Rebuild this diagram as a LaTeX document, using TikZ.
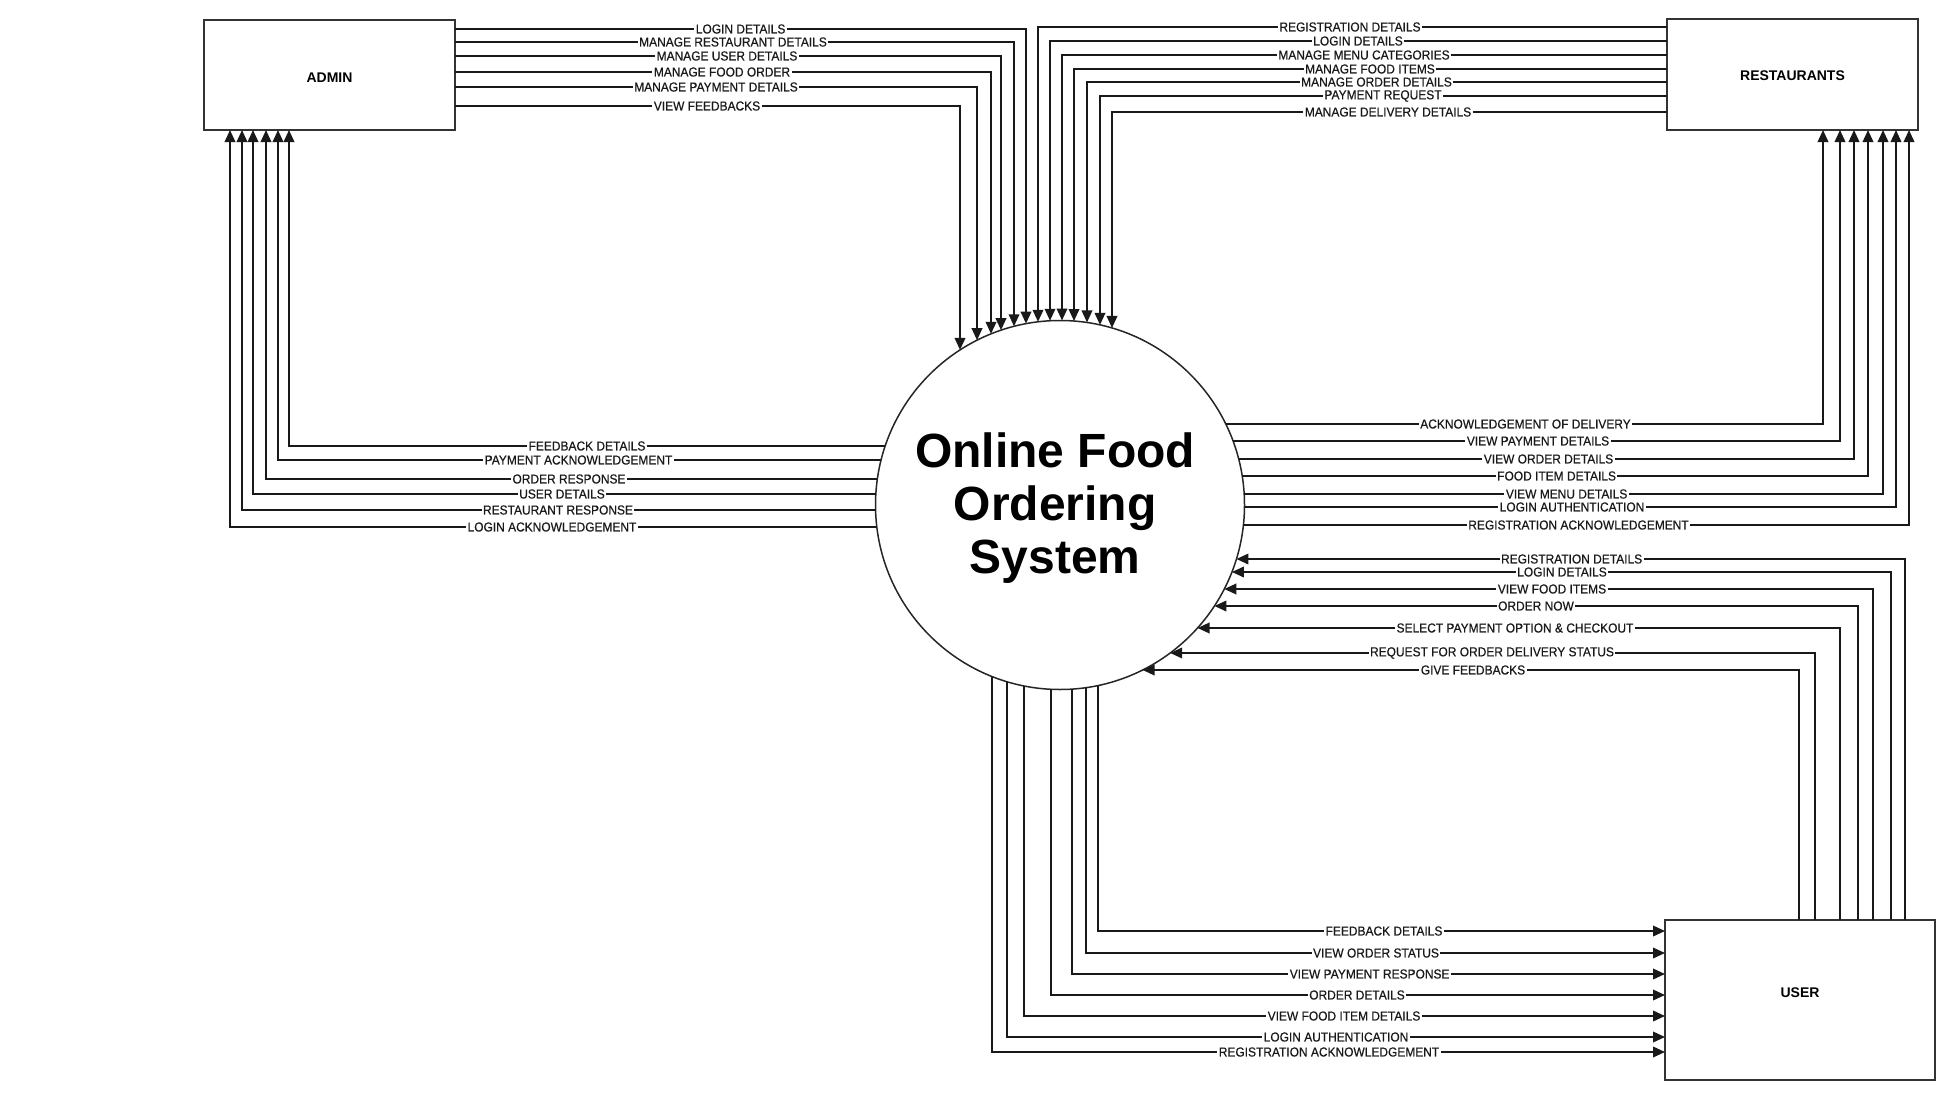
\documentclass[tikz,border=0pt]{standalone}
\usepackage{fontspec}
\setmainfont{Liberation Sans}
\newfontfamily\lblfont[FakeStretch=0.92,FakeBold=0.5]{Liberation Sans}
\usetikzlibrary{arrows.meta,calc}
\begin{document}
\begin{tikzpicture}[x=1pt,y=-1pt,
  ent/.style={draw=black!80, line width=1.5pt, fill=white, inner sep=0pt, outer sep=0pt},
  entname/.style={font=\bfseries\fontsize{14}{14}\selectfont, inner sep=0pt},
  flow/.style={draw=black!90, line width=2pt},
  arr/.style={-{Triangle[length=12pt,width=10.5pt]}},
  lbl/.style={fill=white, inner xsep=1.5pt, inner ysep=0.5pt, text=black!90,
    font=\lblfont\fontsize{13}{13}\selectfont}]
\useasboundingbox[fill=white] (0,0) rectangle (1955,1100);

% entities
\node[ent, minimum width=251pt, minimum height=110pt,
  label={[entname, yshift=-2.5pt]center:ADMIN}] (admin) at (329.5,75) {};
\node[ent, minimum width=251pt, minimum height=111pt,
  label={[entname, yshift=-1.5pt]center:RESTAURANTS}] (rest) at (1792.5,74.5) {};
\node[ent, minimum width=270pt, minimum height=160pt,
  label={[entname, yshift=7.5pt]center:USER}] (user) at (1800,1000) {};

% process
\node[circle, draw=black!85, line width=1.5pt, fill=white, minimum size=369pt, inner sep=0pt,
  outer sep=0pt] (sys) at (1060,505) {};
\node[align=center, font=\bfseries\fontsize{48}{53}\selectfont] (title) at ($(sys.center)+(-5,3)$)
  {Online Food\\Ordering\\System};

% admin -> system (top)
\foreach \y/\xv/\lx/\txt in {
  29/1026/740.6/LOGIN DETAILS,
  42/1014/733/MANAGE RESTAURANT DETAILS,
  56/1001/727/MANAGE USER DETAILS,
  72/991/722/MANAGE FOOD ORDER,
  87/977/716/MANAGE PAYMENT DETAILS,
  106/960/707/VIEW FEEDBACKS}{
  \pgfmathsetmacro\off{100*sqrt(1.845^2-((\xv-1060)/100)^2)}
  \draw[flow,arr] (admin.east |- 0,\y) -- (\xv,\y) -- ($(sys.center)+({\xv-1060},{-\off})$);
  \node[lbl] at (\lx,\y) {\txt};
}

% restaurants -> system (top)
\foreach \y/\xv/\lx/\txt in {
  27/1038/1350/REGISTRATION DETAILS,
  41/1050/1358/LOGIN DETAILS,
  55/1062/1364/MANAGE MENU CATEGORIES,
  69/1074/1370/MANAGE FOOD ITEMS,
  82/1087/1376.5/MANAGE ORDER DETAILS,
  96/1100/1383/PAYMENT REQUEST,
  112/1112/1388/MANAGE DELIVERY DETAILS}{
  \pgfmathsetmacro\off{100*sqrt(1.845^2-((\xv-1060)/100)^2)}
  \draw[flow,arr] (rest.west |- 0,\y) -- (\xv,\y) -- ($(sys.center)+({\xv-1060},{-\off})$);
  \node[lbl] at (\lx,\y) {\txt};
}

% system -> admin (left)
\foreach \y/\xv/\lx/\txt in {
  446/289/587/FEEDBACK DETAILS,
  460/278/578.5/PAYMENT ACKNOWLEDGEMENT,
  479/266/569/ORDER RESPONSE,
  494/253/562/USER DETAILS,
  510/242/558/RESTAURANT RESPONSE,
  527/230/552/LOGIN ACKNOWLEDGEMENT}{
  \pgfmathsetmacro\off{100*sqrt(1.845^2-((\y-505)/100)^2)}
  \draw[flow,arr] ($(sys.center)+({-\off},{\y-505})$) -- (\xv,\y) -- (admin.south -| \xv,0);
  \node[lbl] at (\lx,\y) {\txt};
}

% system -> restaurants (right)
\foreach \y/\xv/\lx/\txt in {
  424/1823/1525.5/ACKNOWLEDGEMENT OF DELIVERY,
  441/1840/1538/VIEW PAYMENT DETAILS,
  459/1854/1548.5/VIEW ORDER DETAILS,
  476/1868/1556.6/FOOD ITEM DETAILS,
  494/1883/1566.6/VIEW MENU DETAILS,
  507/1896/1572/LOGIN AUTHENTICATION,
  525/1909/1578.5/REGISTRATION ACKNOWLEDGEMENT}{
  \pgfmathsetmacro\off{100*sqrt(1.845^2-((\y-505)/100)^2)}
  \draw[flow,arr] ($(sys.center)+({\off},{\y-505})$) -- (\xv,\y) -- (rest.south -| \xv,0);
  \node[lbl] at (\lx,\y) {\txt};
}

% user -> system (right lower)
\foreach \y/\xv/\lx/\txt in {
  559/1905/1571.6/REGISTRATION DETAILS,
  572/1891/1562/LOGIN DETAILS,
  589/1873/1552/VIEW FOOD ITEMS,
  606/1858/1536/ORDER NOW,
  628/1840/1515/SELECT PAYMENT OPTION \& CHECKOUT,
  653/1815/1492/REQUEST FOR ORDER DELIVERY STATUS,
  670/1799/1473/GIVE FEEDBACKS}{
  \pgfmathsetmacro\off{100*sqrt(1.845^2-((\y-505)/100)^2)}
  \draw[flow,arr] (user.north -| \xv,0) -- (\xv,\y) -- ($(sys.center)+({\off},{\y-505})$);
  \node[lbl] at (\lx,\y) {\txt};
}

% system -> user (bottom)
\foreach \y/\xv/\lx/\txt in {
  931/1098/1384/FEEDBACK DETAILS,
  953/1086/1376/VIEW ORDER STATUS,
  974/1072/1369.6/VIEW PAYMENT RESPONSE,
  995/1051/1357/ORDER DETAILS,
  1016/1024/1344/VIEW FOOD ITEM DETAILS,
  1037/1007/1336/LOGIN AUTHENTICATION,
  1052/992/1329/REGISTRATION ACKNOWLEDGEMENT}{
  \pgfmathsetmacro\off{100*sqrt(1.845^2-((\xv-1060)/100)^2)}
  \draw[flow,arr] ($(sys.center)+({\xv-1060},{\off})$) -- (\xv,\y) -- (user.west |- 0,\y);
  \node[lbl] at (\lx,\y) {\txt};
}
\end{tikzpicture}
\end{document}
